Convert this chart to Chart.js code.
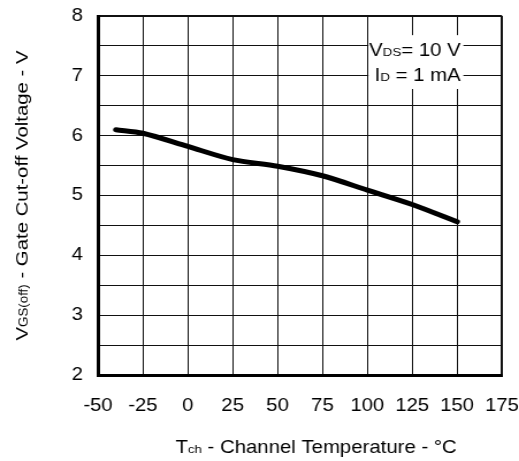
<!DOCTYPE html>
<html>
<head>
<meta charset="utf-8">
<script src="https://cdn.jsdelivr.net/npm/chart.js@4.4.1/dist/chart.umd.min.js"></script>
<style>
  html, body { margin: 0; padding: 0; background: #fff; overflow: hidden; }
  /* the drawing is done narrow and widened so the lettering gets the broad datasheet look */
  #wrap { width: 451px; height: 461px; transform: scaleX(1.1508); transform-origin: 0 0; }
  canvas { display: block; }
</style>
</head>
<body>
<div id="wrap"><canvas id="chart" width="451" height="461"></canvas></div>
<script>
const temps = [-40, -25, 0, 25, 50, 75, 100, 125, 150];
const vgsOff = [6.10, 6.04, 5.82, 5.60, 5.49, 5.33, 5.09, 4.85, 4.56];
const xLabels = [-50, -25, 0, 25, 50, 75, 100, 125, 150, 175];
const yLabels = [2, 3, 4, 5, 6, 7, 8];

// [text, isSubscript]
const xTitle = [["T", 0], ["ch", 1], [" - Channel Temperature - °C", 0]];
const yTitle = [["V", 0], ["GS(off)", 1], [" - Gate Cut-off Voltage - V", 0]];
const conditions = [
  [["V", 0], ["DS", 1], ["= 10 V", 0]],
  [["I", 0], ["D", 1], [" = 1 mA", 0]]
];

const FONT = "'Liberation Sans', Arial, sans-serif";
const BIG = 17.7;
const SMALL = 11.6;
const STRETCH = 519 / 451;

function fontFor(sub) {
  return `${sub ? SMALL : BIG}px ${FONT}`;
}

// draws a run of normal/subscript pieces centred on cx, sharing one baseline
function drawRich(ctx, parts, cx, baseline) {
  const widths = parts.map(([t, sub]) => {
    ctx.font = fontFor(sub);
    return ctx.measureText(t).width;
  });
  let pos = cx - widths.reduce((a, b) => a + b, 0) / 2;
  parts.forEach(([t, sub], i) => {
    ctx.font = fontFor(sub);
    ctx.fillText(t, pos, baseline);
    pos += widths[i];
  });
}

const textPlugin = {
  id: "textPlugin",
  afterDraw(chart) {
    const { ctx, scales } = chart;
    const x = scales.x;
    const y = scales.y;

    ctx.save();
    ctx.textAlign = "left";
    ctx.textBaseline = "alphabetic";

    // test conditions sit on a white patch over the grid
    const boxL = x.getPixelForValue(100) + 1;
    const boxR = x.getPixelForValue(153.5);
    const boxT = y.getPixelForValue(7.68);
    const boxB = y.getPixelForValue(6.78);
    ctx.fillStyle = "#fff";
    ctx.fillRect(boxL, boxT, boxR - boxL, boxB - boxT);
    ctx.fillStyle = "#000";
    drawRich(ctx, conditions[0], x.getPixelForValue(126.5), y.getPixelForValue(7.336));
    drawRich(ctx, conditions[1], x.getPixelForValue(128), y.getPixelForValue(6.914));

    // axis titles
    drawRich(ctx, xTitle, 274.6, 453.3);

    ctx.translate(24.1, (chart.chartArea.top + chart.chartArea.bottom) / 2);
    ctx.rotate(-Math.PI / 2);
    ctx.scale(STRETCH, 1 / STRETCH);
    drawRich(ctx, yTitle, 0, 0);
    ctx.restore();
  }
};

const tickFont = { family: FONT, size: BIG };

new Chart(document.getElementById("chart"), {
  type: "line",
  data: {
    datasets: [{
      data: temps.map((t, i) => ({ x: t, y: vgsOff[i] })),
      borderColor: "#000",
      borderWidth: 5,
      borderCapStyle: "round",
      pointRadius: 0,
      tension: 0.3,
      fill: false
    }]
  },
  options: {
    responsive: false,
    animation: false,
    layout: { padding: { top: 16, right: 14.8, left: 0, bottom: 0 } },
    plugins: {
      legend: { display: false },
      tooltip: { enabled: false }
    },
    scales: {
      x: {
        type: "linear",
        min: -50,
        max: 175,
        afterBuildTicks: (s) => { s.ticks = xLabels.map((v) => ({ value: v })); },
        afterFit: (s) => {
          s.height = 86;
          s.paddingLeft = 0;
          s.paddingRight = 0;
        },
        grid: {
          color: "#111",
          lineWidth: (c) => (c.tick && c.tick.value === 175 ? 2 : 1),
          drawTicks: false
        },
        border: { color: "#000", width: 3 },
        ticks: { color: "#000", font: tickFont, padding: 20, maxRotation: 0, autoSkip: false }
      },
      y: {
        min: 2,
        max: 8,
        afterFit: (s) => {
          s.width = 85.16;
          s.paddingTop = 0;
          s.paddingBottom = 0;
        },
        grid: {
          color: "#111",
          lineWidth: (c) => (c.tick && c.tick.value === 8 ? 2 : 1),
          drawTicks: false
        },
        border: { color: "#000", width: 3 },
        ticks: {
          color: "#000",
          font: tickFont,
          padding: 13,
          stepSize: 0.5,
          autoSkip: false,
          callback: (v) => (yLabels.includes(v) ? v : "")
        }
      }
    }
  },
  plugins: [textPlugin]
});
</script>
</body>
</html>
